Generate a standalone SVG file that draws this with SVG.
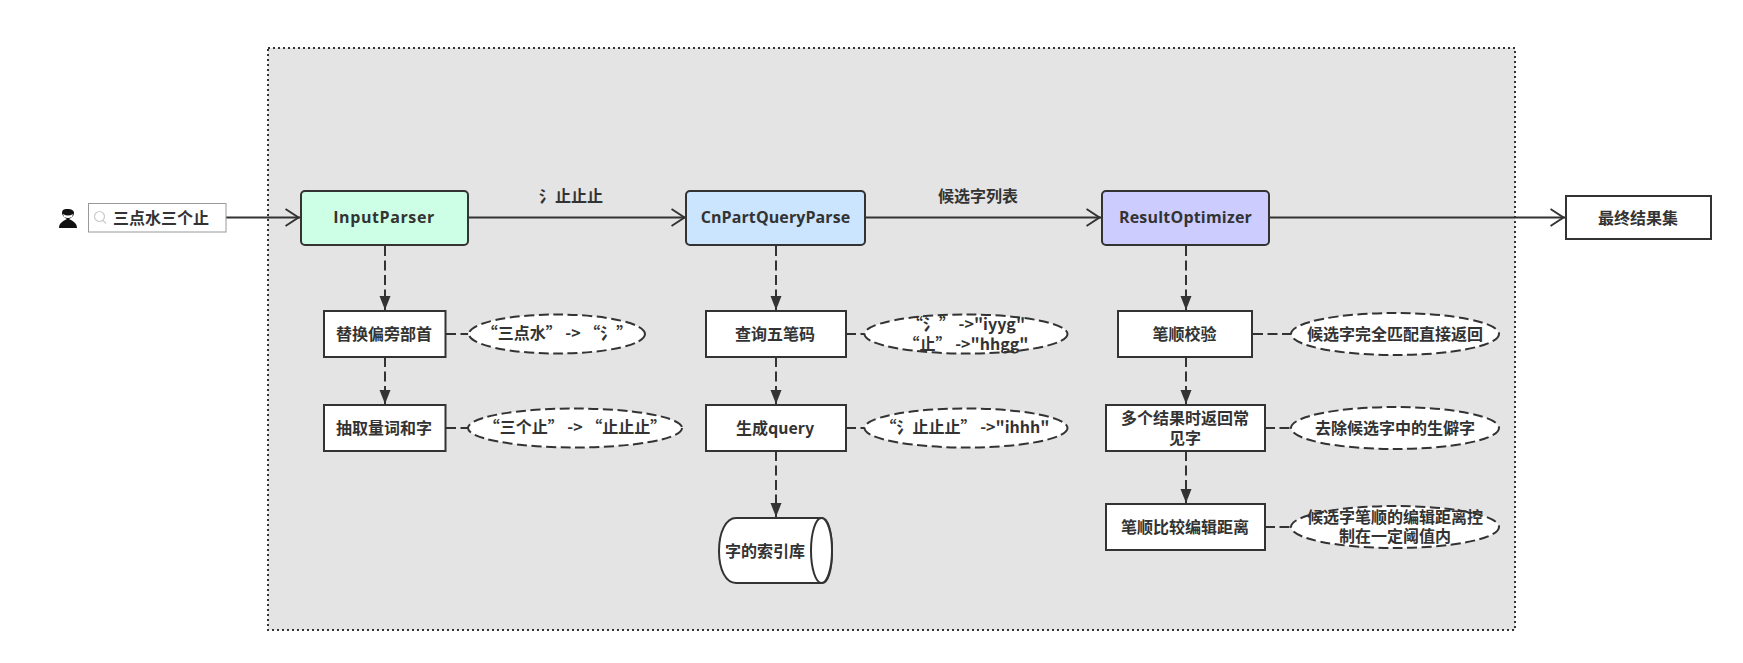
<svg xmlns="http://www.w3.org/2000/svg" width="1743" height="663" viewBox="0 0 1743 663">
<style>
text{font-family:"Noto Sans CJK SC","Noto Sans",sans-serif;font-size:16px;font-weight:700;fill:#333;text-anchor:middle}
.l{font-family:"Open Sans","Noto Sans CJK SC",sans-serif}
.b{fill:#fff;stroke:#333;stroke-width:2}
.e{fill:#fff;stroke:#333;stroke-width:2;stroke-dasharray:10 4.500}
.s{fill:none;stroke:#333;stroke-width:2}
.d{fill:none;stroke:#333;stroke-width:2;stroke-dasharray:10 4.500}
.t{fill:none;stroke:#333;stroke-width:2;marker-end:url(#solid)}
.o{fill:none;stroke:#333;stroke-width:2;marker-end:url(#open)}
</style>
<defs>
<marker id="solid" markerUnits="userSpaceOnUse" markerWidth="16" markerHeight="14" refX="14" refY="7" orient="auto"><path d="M0 1.500L14 7L0 12.500L0 1.500Z" fill="#333"/></marker>
<marker id="open" markerUnits="userSpaceOnUse" markerWidth="18" markerHeight="22" refX="15.500" refY="11" orient="auto"><path d="M1 2.500L14 11L1 19.500" fill="none" stroke="#333" stroke-width="2"/></marker>
</defs>
<g id="container"><rect x="268" y="48" width="1247" height="582" fill="#e4e4e4" stroke="#333" stroke-width="2" stroke-dasharray="2 3"/></g>
<g id="connectors">
<path class="o" d="M222 217.500H300"/>
<path class="o" d="M468 217.500H686"/>
<path class="o" d="M865 217.500H1101"/>
<path class="o" d="M1269 217.500H1565"/>
<path class="d t" d="M385 246V310"/>
<path class="d t" d="M385 357V404"/>
<path class="d t" d="M776 246V310"/>
<path class="d t" d="M776 357V404"/>
<path class="d t" d="M776 451V517"/>
<path class="d t" d="M1186 246V310"/>
<path class="d t" d="M1186 357V404"/>
<path class="d t" d="M1186 451V503"/>
<path class="d" d="M446 334H468"/>
<path class="d" d="M446 428H468"/>
<path class="d" d="M846 334H865"/>
<path class="d" d="M846 428H865"/>
<path class="d" d="M1253 334H1291"/>
<path class="d" d="M1265 428H1291"/>
<path class="d" d="M1265 527H1291"/>
</g>
<g id="user"><path d="M59 228C59 223 63 221 67 219C63 217 62 214 62 213C62 209 65 209 68 209C71 209 74 210 74 213C74 215 73 217 69 219C73 221 77 223 77 228Z" fill="#111"/><path d="M63 214Q68 217 73 214L72 217Q68 219 64 217Z" fill="#fff"/></g>
<g id="search"><rect x="88.500" y="203.500" width="137.500" height="28.500" fill="#fff" stroke="#999" stroke-width="1"/><circle cx="99.500" cy="216.500" r="5" fill="none" stroke="#ccc" stroke-width="1.200"/><path d="M103 220.500L106 223.500" stroke="#ccc" stroke-width="1.200"/><text x="161" y="223.500">三点水三个止</text></g>
<g id="inputparser"><rect x="301" y="191" width="167" height="54" rx="4" fill="#ccffe6" stroke="#333" stroke-width="2"/><text class="l" x="384" y="223" letter-spacing=".6">InputParser</text></g>
<g id="cnpart"><rect x="686" y="191" width="179" height="54" rx="4" fill="#cce5ff" stroke="#333" stroke-width="2"/><text class="l" x="775.500" y="223" letter-spacing=".1">CnPartQueryParse</text></g>
<g id="optimizer"><rect x="1102" y="191" width="167" height="54" rx="4" fill="#ccccff" stroke="#333" stroke-width="2"/><text class="l" x="1185.500" y="223" letter-spacing=".2">ResultOptimizer</text></g>
<g id="final"><rect class="b" x="1566" y="196" width="145" height="43"/><text x="1638" y="223.500">最终结果集</text></g>
<g id="label1"><text x="571" y="202">氵止止止</text></g>
<g id="label2"><text x="978" y="202">候选字列表</text></g>
<g id="n1"><rect class="b" x="324" y="311" width="121.500" height="46"/><text x="384" y="339.500">替换偏旁部首</text></g>
<g id="n2"><rect class="b" x="324" y="405" width="121.500" height="46"/><text x="384" y="433.500">抽取量词和字</text></g>
<g id="n3"><rect class="b" x="706" y="311" width="140" height="46"/><text x="775" y="339.500">查询五笔码</text></g>
<g id="n4"><rect class="b" x="706" y="405" width="140" height="46"/><text x="775" y="433.500">生成query</text></g>
<g id="n5"><rect class="b" x="1118" y="311" width="134" height="46"/><text x="1184.500" y="339.500">笔顺校验</text></g>
<g id="n6"><rect class="b" x="1106" y="405" width="159" height="46"/><text x="1185" y="423.500">多个结果时返回常</text><text x="1185" y="443.500">见字</text></g>
<g id="n7"><rect class="b" x="1106" y="504" width="159" height="46"/><text x="1185" y="532.500">笔顺比较编辑距离</text></g>
<g id="e1"><ellipse class="e" cx="557" cy="334" rx="88" ry="19.500"/><text x="557" y="338.500">“三点水” -&gt; “氵”</text></g>
<g id="e2"><ellipse class="e" cx="575" cy="428" rx="107" ry="19.500"/><text x="575" y="432.500">“三个止” -&gt; “止止止”</text></g>
<g id="e3"><ellipse class="e" cx="966" cy="334" rx="101.500" ry="19.500"/><text x="966" y="329.500">“氵” -&gt;"iyyg"</text><text x="966" y="349.500">“止” -&gt;"hhgg"</text></g>
<g id="e4"><ellipse class="e" cx="966" cy="428" rx="101.500" ry="19.500"/><text x="965" y="432.500">“氵止止止” -&gt;"ihhh"</text></g>
<g id="e5"><ellipse class="e" cx="1395" cy="334" rx="104" ry="21"/><text x="1395" y="339.500">候选字完全匹配直接返回</text></g>
<g id="e6"><ellipse class="e" cx="1395" cy="428" rx="104" ry="21"/><text x="1395" y="433.500">去除候选字中的生僻字</text></g>
<g id="e7"><ellipse class="e" cx="1395" cy="527" rx="104" ry="21"/><text x="1395" y="523">候选字笔顺的编辑距离控</text><text x="1395" y="542">制在一定阈值内</text></g>
<g id="db"><path class="b" d="M736 518H822C828 518 832 532 832 551C832 570 828 583 822 583H736C726 583 719 570 719 551C719 532 726 518 736 518Z"/><ellipse class="b" cx="821.500" cy="550.500" rx="10.500" ry="32.500"/><text x="765" y="556.500">字的索引库</text></g>
</svg>
